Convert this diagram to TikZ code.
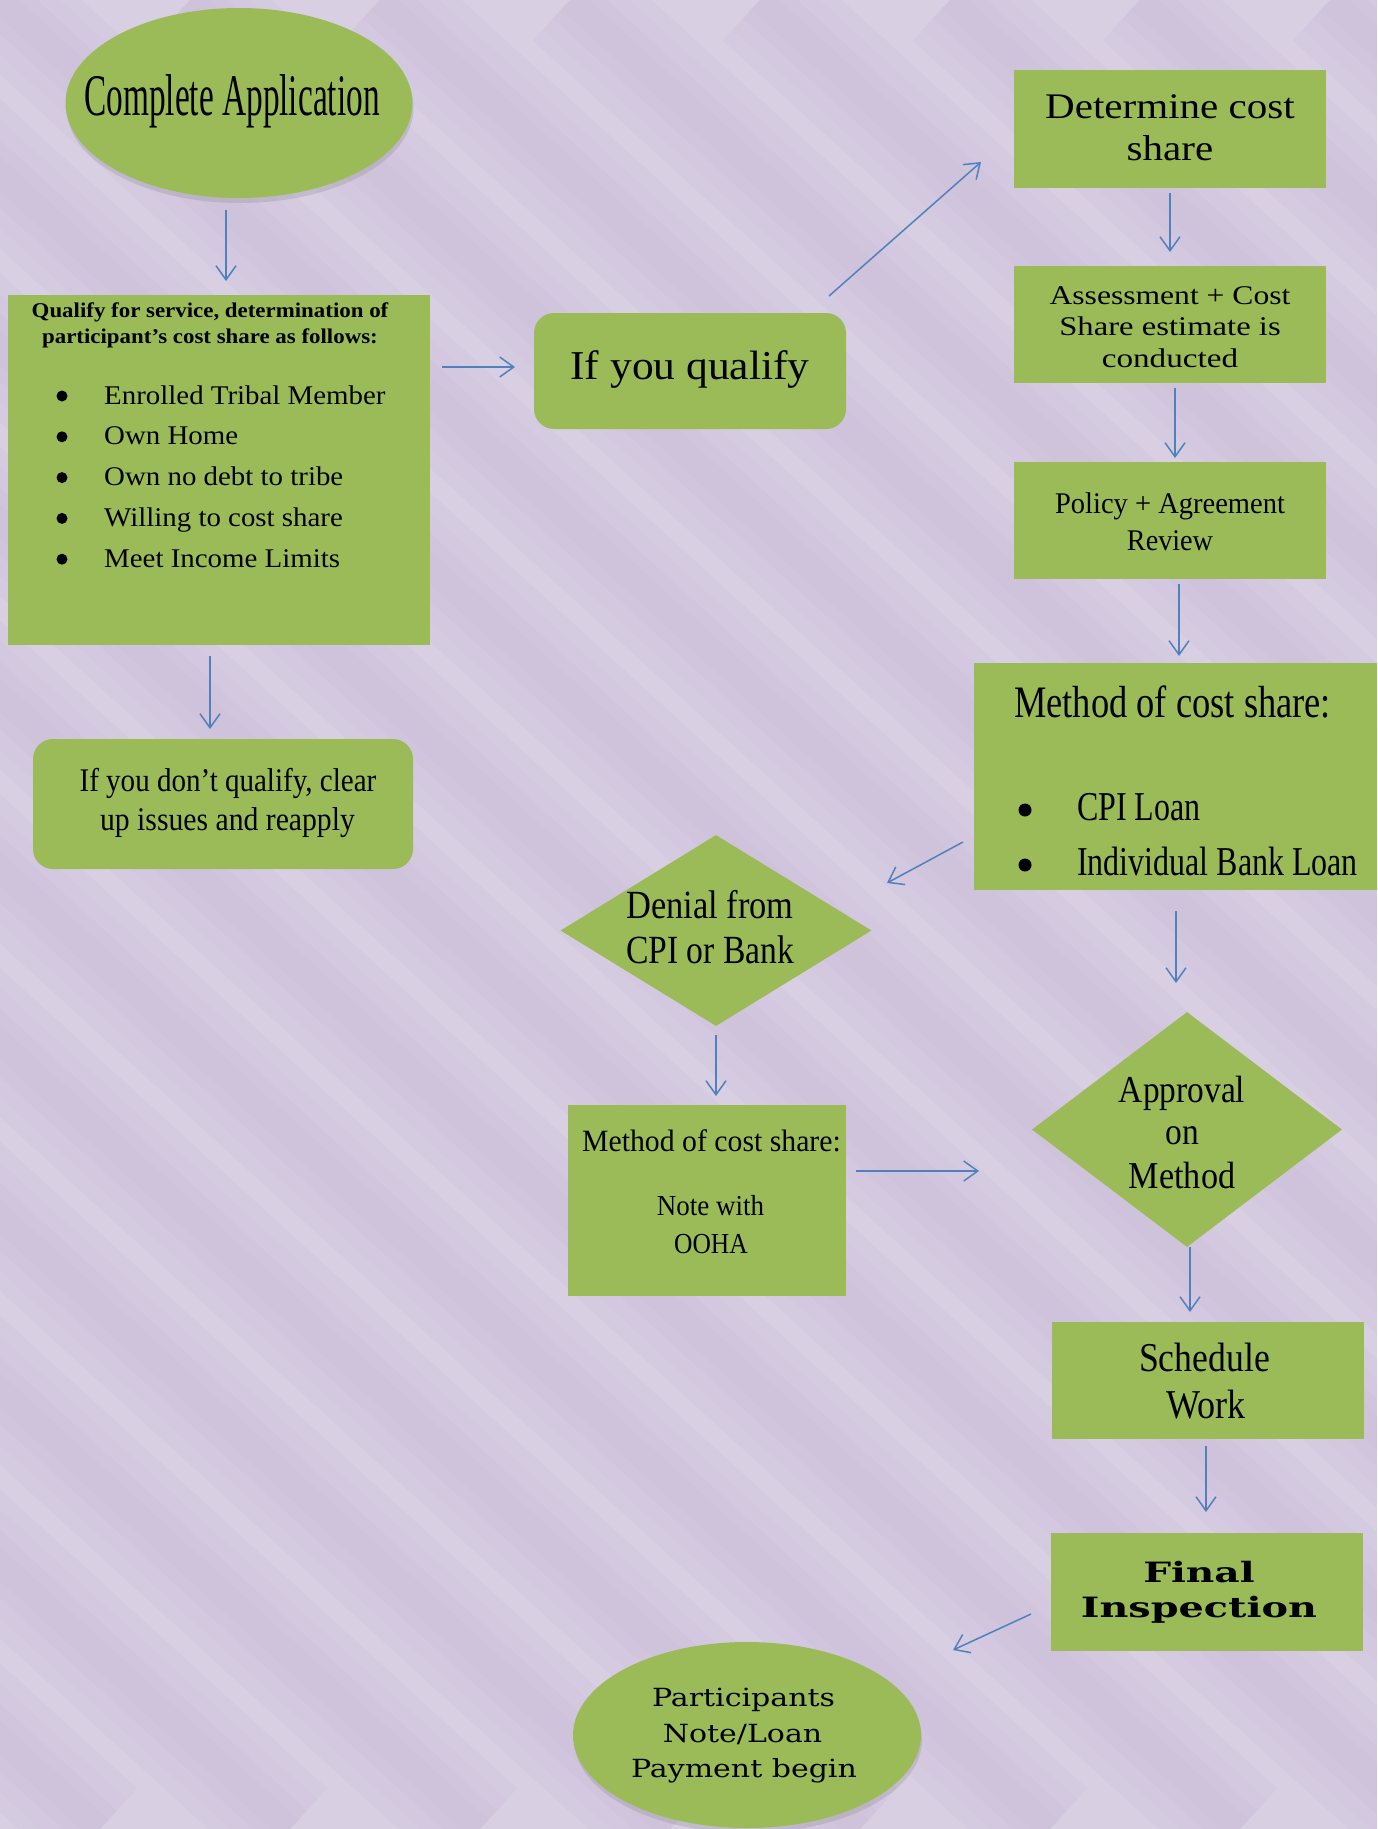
\documentclass[tikz,border=0pt]{standalone}
\usepackage{fontspec}
\setmainfont{Liberation Serif}
\newfontfamily\dvs{DejaVu Serif}
\usepackage{graphicx}
\usetikzlibrary{shapes.geometric,arrows.meta,shadows}
\definecolor{bgA}{HTML}{D8CFE3}
\definecolor{bgB}{HTML}{C7B7D6}
\definecolor{gr}{HTML}{9BBB59}
\definecolor{ab}{HTML}{4F81BD}
\newcommand\tx[3]{\fontsize{#1}{#1}\selectfont\scalebox{#2}[1]{#3}}
\begin{document}
\begin{tikzpicture}[x=1pt,y=-1pt,
  box/.style={rectangle,fill=gr,inner sep=0pt},
  rbox/.style={rectangle,rounded corners=20pt,fill=gr,inner sep=0pt},
  ell/.style={ellipse,fill=gr,inner sep=0pt,drop shadow={shadow xshift=1pt,shadow yshift=-5pt,opacity=0.25}},
  dia/.style={diamond,fill=gr,inner sep=0pt},
  lbl/.style={anchor=base,inner sep=0pt},
  lbll/.style={anchor=base west,inner sep=0pt},
  arr/.style={draw=ab,line width=1.5pt,-{Straight Barb[length=14pt,width=20pt]}}
]
\useasboundingbox (0,0) rectangle (1377,1829);
\clip (0,0) rectangle (1377,1829);
% background
\fill[bgA] (0,0) rectangle (1377,1829);
\foreach \i in {-12,...,8}{
  \foreach \w in {110,80,50,25}{
    \draw[bgB,line width=\w pt,opacity=0.14] ({\i*190},0) -- ++(2000,1829);
  }
}
% nodes
\node[ell,minimum width=347pt,minimum height=190pt] (app) at (239,103) {};
\node[lbl] (appT) at (232,115) {\tx{59}{0.565}{Complete Application}};

\node[box,minimum width=422pt,minimum height=350pt] (qual) at (219,470) {};
\node[lbl] (qualT1) at (210,317) {\bfseries\tx{21}{1.09}{Qualify for service, determination of}};
\node[lbl] (qualT2) at (210,343) {\bfseries\tx{21}{1.09}{participant’s cost share as follows:}};
\foreach \t [count=\k] in {Enrolled Tribal Member,Own Home,Own no debt to tribe,Willing to cost share,Meet Income Limits}{
  \fill (62,{396+40.8*(\k-1)}) circle (5.5pt);
  \node[lbll] (qb\k) at (104,{404+40.8*(\k-1)}) {\tx{27}{1.07}{\t}};
}

\node[rbox,minimum width=380pt,minimum height=130pt] (noq) at (223,804) {};
\node[lbl] (noqT1) at (228,791) {\tx{33}{0.88}{If you don’t qualify, clear}};
\node[lbl] (noqT2) at (227.5,830) {\tx{33}{0.90}{up issues and reapply}};

\node[rbox,minimum width=312pt,minimum height=116pt] (ifq) at (690,371) {};
\node[lbl] (ifqT) at (690,379) {\tx{41}{1.06}{If you qualify}};

\node[box,minimum width=312pt,minimum height=118pt] (det) at (1170,129) {};
\node[lbl] (detT1) at (1170,118) {\tx{36}{1.14}{Determine cost}};
\node[lbl] (detT2) at (1170,160) {\tx{36}{1.14}{share}};

\node[box,minimum width=312pt,minimum height=117pt] (ass) at (1170,324.5) {};
\node[lbl] (assT1) at (1170,304) {\tx{27}{1.17}{Assessment + Cost}};
\node[lbl] (assT2) at (1170,335) {\tx{27}{1.21}{Share estimate is}};
\node[lbl] (assT3) at (1170,367) {\tx{27}{1.23}{conducted}};

\node[box,minimum width=312pt,minimum height=117pt] (pol) at (1170,520.5) {};
\node[lbl] (polT1) at (1170,513) {\tx{30}{0.95}{Policy + Agreement}};
\node[lbl] (polT2) at (1170,550) {\tx{30}{0.94}{Review}};

\node[box,minimum width=406pt,minimum height=227pt] (meth) at (1177,776.5) {};
\node[lbll] (methT) at (1014,717) {\tx{45}{0.81}{Method of cost share:}};
\fill (1025,810) circle (6.5pt);
\fill (1025,865) circle (6.5pt);
\node[lbll] (methB1) at (1077,820) {\tx{41}{0.78}{CPI Loan}};
\node[lbll] (methB2) at (1077,875) {\tx{41}{0.78}{Individual Bank Loan}};

\node[dia,minimum width=311pt,minimum height=191pt] (den) at (716,930.5) {};
\node[lbl] (denT1) at (710,918) {\tx{40}{0.86}{Denial from}};
\node[lbl] (denT2) at (710,963) {\tx{40}{0.84}{CPI or Bank}};

\node[box,minimum width=278pt,minimum height=191pt] (meth2) at (707,1200.5) {};
\node[lbl] (m2T1) at (711.5,1151) {\tx{31}{0.96}{Method of cost share:}};
\node[lbl] (m2T2) at (710.5,1215) {\tx{29}{0.93}{Note with}};
\node[lbl] (m2T3) at (711,1253) {\tx{29}{0.88}{OOHA}};

\node[dia,minimum width=310pt,minimum height=235pt] (appr) at (1187,1129.5) {};
\node[lbl] (apT1) at (1182,1102) {\tx{38}{0.88}{Approval}};
\node[lbl] (apT2) at (1182.5,1144) {\tx{38}{0.88}{on}};
\node[lbl] (apT3) at (1182,1188) {\tx{38}{0.90}{Method}};

\node[box,minimum width=312pt,minimum height=117pt] (sched) at (1208,1380.5) {};
\node[lbl] (scT1) at (1204.5,1371) {\tx{41}{0.87}{Schedule}};
\node[lbl] (scT2) at (1206,1418) {\tx{41}{0.88}{Work}};

\node[box,minimum width=312pt,minimum height=118pt] (fin) at (1207,1592) {};
\node[lbl] (fiT1) at (1199,1582) {\dvs\bfseries\tx{28}{1.40}{Final}};
\node[lbl] (fiT2) at (1199,1617) {\dvs\bfseries\tx{28}{1.42}{Inspection}};

\node[ell,minimum width=348pt,minimum height=186pt] (part) at (747,1735) {};
\node[lbl] (paT1) at (743.5,1706) {\dvs\tx{25}{1.2}{Participants}};
\node[lbl] (paT2) at (742.5,1742) {\dvs\tx{25}{1.2}{Note/Loan}};
\node[lbl] (paT3) at (744,1777) {\dvs\tx{25}{1.2}{Payment begin}};

% connectors
\foreach \sx/\sy/\ex/\ey [count=\n] in {
  226/210/226/281, 442/367/515/367, 829/296/981/162, 1170/193/1170/252,
  1175/388/1175/458, 1179/584/1179/656, 963/842/887/883, 716/1035/716/1096,
  856/1171/979/1171, 1176/911/1176/983, 1190/1247/1190/1312, 1206/1446/1206/1512,
  1031/1614/953/1650, 210/656/210/729}{
  \coordinate (s\n) at (\sx,\sy);
  \coordinate (e\n) at (\ex,\ey);
  \draw[arr] (s\n) -- (e\n);
}
\end{tikzpicture}
\end{document}
